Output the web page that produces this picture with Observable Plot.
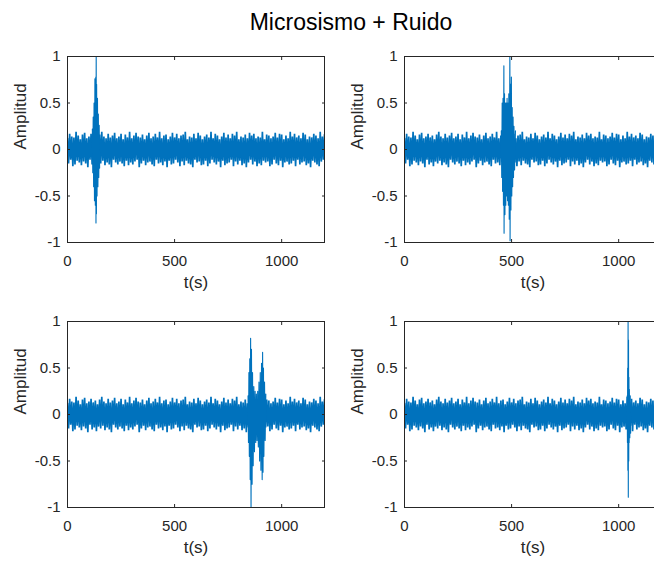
<!DOCTYPE html>
<html>
<head>
<meta charset="utf-8">
<script src="https://cdn.jsdelivr.net/npm/d3@7"></script>
<script src="https://cdn.jsdelivr.net/npm/@observablehq/plot@0.6"></script>
<style>
  html, body { margin: 0; padding: 0; background: #fff; overflow: hidden; }
  #fig { position: relative; width: 654px; height: 561px; overflow: hidden; background: #fff; font-family: "Liberation Sans", Arial, sans-serif; }
  #title { position: absolute; left: 0; width: 702px; top: 9px; text-align: center; font-size: 23px; color: #000; }
  .panel { position: absolute; }
</style>
</head>
<body>
<div id="fig">
  <div id="title"></div>
</div>
<script>
const titleText = "Microsismo + Ruido";
const xLabel = "t(s)";
const yLabel = "Amplitud";
const xTicks = [0, 500, 1000];
const yTicks = [-1, -0.5, 0, 0.5, 1];
const sampleStep = 5; // seconds between noise samples

// background noise (samples every 5 s, 0..1200 s)
const noise = [
0.12,-0.15,0.17,-0.11,0.14,-0.18,0.13,-0.16,0.19,-0.12,
0.15,-0.14,0.11,-0.17,0.16,-0.13,0.18,-0.15,0.12,-0.19,
0.14,-0.11,0.17,-0.16,0.13,-0.14,0.15,-0.18,0.11,-0.13,
0.16,-0.15,0.19,-0.12,0.14,-0.17,0.12,-0.14,0.17,-0.16,
0.13,-0.19,0.15,-0.11,0.18,-0.14,0.12,-0.16,0.14,-0.13,
0.17,-0.15,0.11,-0.18,0.16,-0.12,0.13,-0.17,0.19,-0.14,
0.12,-0.16,0.15,-0.13,0.18,-0.11,0.14,-0.19,0.13,-0.15,
0.16,-0.12,0.11,-0.17,0.15,-0.14,0.18,-0.13,0.12,-0.16,
0.14,-0.18,0.17,-0.11,0.13,-0.15,0.19,-0.14,0.12,-0.17,
0.15,-0.13,0.16,-0.19,0.11,-0.12,0.14,-0.16,0.18,-0.15,
0.13,-0.11,0.17,-0.14,0.12,-0.18,0.15,-0.13,0.16,-0.17,
0.19,-0.12,0.11,-0.15,0.14,-0.16,0.13,-0.19,0.17,-0.11,
0.12,-0.14,0.18,-0.13,0.15,-0.17,0.11,-0.16,0.14,-0.12,
0.16,-0.18,0.13,-0.15,0.19,-0.11,0.12,-0.14,0.17,-0.16,
0.15,-0.13,0.11,-0.19,0.14,-0.12,0.18,-0.17,0.13,-0.15,
0.16,-0.14,0.12,-0.11,0.17,-0.18,0.15,-0.13,0.19,-0.16,
0.11,-0.12,0.14,-0.17,0.13,-0.15,0.16,-0.19,0.12,-0.14,
0.18,-0.11,0.15,-0.16,0.17,-0.13,0.12,-0.18,0.14,-0.15,
0.13,-0.17,0.19,-0.12,0.11,-0.14,0.16,-0.13,0.15,-0.18,
0.12,-0.16,0.14,-0.11,0.18,-0.15,0.13,-0.17,0.17,-0.12,
0.16,-0.19,0.11,-0.14,0.15,-0.13,0.12,-0.16,0.19,-0.15,
0.14,-0.12,0.17,-0.18,0.13,-0.11,0.15,-0.16,0.12,-0.14,
0.18,-0.13,0.16,-0.17,0.11,-0.15,0.14,-0.19,0.13,-0.12,
0.17,-0.14,0.15,-0.16,0.12,-0.18,0.19,-0.13,0.14,-0.11,
0.16
];

// microseism bursts
const burst1T = [116,118,120,122,124,126,128,130,132,133,134,135,136,138,140,142,144,146,148,150];
const burst1V = [0.22,-0.25,0.35,-0.4,0.5,-0.55,0.76,-0.6,0.78,-0.79,1.05,-0.69,0.7,-0.5,0.55,-0.4,0.38,-0.3,0.26,-0.2];

const burst2T = [452,454,456,458,460,462,464,465,467,469,471,473,475,477,479,481,483,485,487,489,492,493,495,497,499,501,503,505,507,509,511,514,518];
const burst2V = [0.2,-0.3,0.5,-0.45,0.55,-0.6,0.9,-0.9,0.6,-0.7,0.5,-0.6,0.5,-0.5,0.55,-0.55,0.5,-0.6,0.6,-0.75,1.05,-0.98,0.7,-0.65,0.78,-0.5,0.45,-0.4,0.35,-0.3,0.25,-0.22,0.2];

const burst3T = [843,845,847,849,851,853,855,857,859,862,864,867,870,873,876,879,882,885,888,891,894,897,900,903,906,909,911,913,915,917,920,923,926];
const burst3V = [0.2,-0.3,0.45,-0.45,0.6,-0.7,0.82,-1.02,0.7,-0.75,0.45,-0.55,0.3,-0.4,0.25,-0.3,0.22,-0.28,0.25,-0.35,0.35,-0.5,0.45,-0.6,0.55,-0.7,0.67,-0.62,0.5,-0.45,0.35,-0.28,0.22];

const burst4T = [1040,1041,1042,1043,1044,1045,1046,1047,1048,1049,1050,1052,1054,1056];
const burst4V = [0.2,-0.3,0.5,-0.6,1.05,-0.89,0.8,-0.5,0.4,-0.3,0.27,-0.25,0.2,-0.2];

const blue = "#0072BD";
const ink = "#262626";

document.getElementById("title").textContent = titleText;

function panel(bT, bV) {
  const noiseData = noise.map((v, i) => ({t: i * sampleStep, v}));
  const burstData = bT.map((t, i) => ({t, v: bV[i]}));
  const fmt = d => String(d);
  return Plot.plot({
    width: 340, height: 246,
    marginLeft: 67, marginRight: 16, marginTop: 10, marginBottom: 50,
    x: {domain: [0, 1200]},
    y: {domain: [-1, 1]},
    style: {fontFamily: "'Liberation Sans', Arial, sans-serif", fontSize: "15px", color: ink, background: "white", overflow: "visible"},
    marks: [
      Plot.lineY(noiseData, {x: "t", y: "v", stroke: blue, strokeWidth: 1.7, strokeLinejoin: "miter", clip: true}),
      Plot.lineY(burstData, {x: "t", y: "v", stroke: blue, strokeWidth: 1.1, clip: true}),
      Plot.frame({stroke: ink, strokeWidth: 1}),
      Plot.axisX({ticks: xTicks, tickSize: -3, tickPadding: 16, tickFormat: fmt, label: null, fontSize: 15, color: ink}),
      Plot.axisX({anchor: "top", ticks: xTicks, tickSize: -3, tickFormat: () => "", label: null, color: ink}),
      Plot.axisY({ticks: yTicks, tickSize: -3, tickPadding: 10, tickFormat: fmt, label: null, fontSize: 15, color: ink}),
      Plot.axisY({anchor: "right", ticks: yTicks, tickSize: -3, tickFormat: () => "", label: null, color: ink}),
      Plot.text([xLabel], {frameAnchor: "bottom", dy: 45, fontSize: 17, fill: ink}),
      Plot.text([yLabel], {frameAnchor: "left", dx: -47, rotate: -90, fontSize: 17, fill: ink})
    ]
  });
}

const fig = document.getElementById("fig");
const layout = [
  [burst1T, burst1V, 0, 46],
  [burst2T, burst2V, 337, 46],
  [burst3T, burst3V, 0, 311],
  [burst4T, burst4V, 337, 311]
];
for (const [bT, bV, left, top] of layout) {
  const el = panel(bT, bV);
  el.classList.add("panel");
  el.style.left = left + "px";
  el.style.top = top + "px";
  fig.appendChild(el);
}
</script>
</body>
</html>
